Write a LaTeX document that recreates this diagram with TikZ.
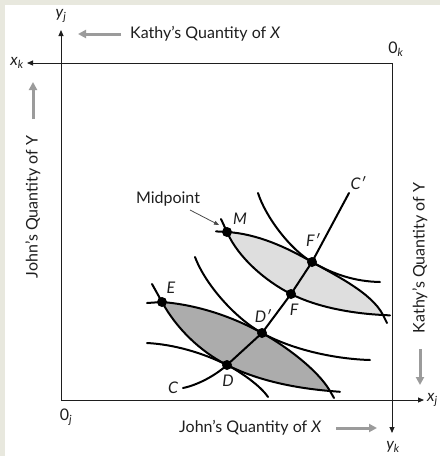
\documentclass[tikz,border=0pt]{standalone}
\usepackage{fontspec}
\setmainfont{Lato}
\usetikzlibrary{arrows.meta}
\definecolor{beige}{RGB}{232,232,222}
\definecolor{darklens}{RGB}{172,172,172}
\definecolor{lightlens}{RGB}{222,222,222}
\definecolor{arrowgray}{RGB}{155,155,155}
\definecolor{ink}{RGB}{30,30,30}
\begin{document}
\begin{tikzpicture}[x=1pt,y=-1pt,
  axisline/.style={line width=0.9pt,draw=ink},
  axisarrow/.style={line width=0.9pt,draw=ink,-{Triangle[length=6pt,width=5pt]}},
  curve/.style={line width=2pt,draw=black,line cap=round},
  grayarrow/.style={line width=3pt,draw=arrowgray,-{Triangle[length=8pt,width=8pt]}},
  dot/.style={circle,fill=black,inner sep=0pt,minimum size=10pt},
  txt/.style={font=\fontsize{16}{18}\selectfont,text=ink,inner sep=0pt},
  lbl/.style={font=\fontsize{16}{18}\selectfont\itshape,text=ink,inner sep=0pt}]
\useasboundingbox (0,0) rectangle (440,456);
\fill[white] (0,0) rectangle (440,456);
\fill[beige] (0,0) rectangle (440,5);
\fill[beige] (0,0) rectangle (5,456);
% corners of box
\coordinate (TL) at (61,63);
\coordinate (TR) at (392,63);
\coordinate (BL) at (61,400);
\coordinate (BR) at (392,400);
\coordinate (yjtip) at (61,30);
\coordinate (xktip) at (27,63);
\coordinate (xjtip) at (424,400);
\coordinate (yktip) at (392,433);
% key points
\coordinate (E) at (162,302);
\coordinate (D) at (227,365);
\coordinate (Dp) at (262,333);
\coordinate (F) at (291,294);
\coordinate (Fp) at (312,262);
\coordinate (M) at (227,232);
\coordinate (L1) at (330,391);
\coordinate (L2) at (383,315);
\coordinate (Cs) at (183,388);
\coordinate (Cp) at (349,193);
% lens fills
\fill[darklens] (E) .. controls (176.4,328.4) and (200.3,351.5) .. (D)
  .. controls (258,380.7) and (295,388) .. (L1)
  .. controls (317.5,369.3) and (283.9,345) .. (Dp)
  .. controls (231.4,316.2) and (197,304.8) .. (E) -- cycle;
\fill[lightlens] (M) .. controls (238.2,257.8) and (266,281.4) .. (F)
  .. controls (317.7,307.5) and (353,313.5) .. (L2)
  .. controls (371.75,292.5) and (333.75,274.5) .. (Fp)
  .. controls (285.9,247) and (257,233.8) .. (M) -- cycle;
% box and axes
\draw[axisline] (BL) -- (BR);
\draw[axisline] (TL) -- (TR);
\draw[axisline] (TL) -- (BL);
\draw[axisline] (TR) -- (BR);
\draw[axisarrow] (BL) -- (yjtip);
\draw[axisarrow] (TR) -- (xktip);
\draw[axisarrow] (BL) -- (xjtip);
\draw[axisarrow] (TR) -- (yktip);
% lower lens curves
\draw[curve] (152,284) -- (E) .. controls (176.4,328.4) and (200.3,351.5) .. (D)
  .. controls (258,380.7) and (295,388) .. (L1) -- (340,391.8);
\draw[curve] (147,303) -- (E) .. controls (197,304.8) and (231.4,316.2) .. (Dp)
  .. controls (283.9,345) and (317.5,369.3) .. (L1) -- (334,398);
\draw[curve] (195,257) .. controls (205.5,285) and (235.75,318.6) .. (Dp)
  .. controls (292.6,349.8) and (335,359) .. (370,360);
\draw[curve] (147,343) .. controls (174,344.4) and (203,352.9) .. (D)
  .. controls (239.5,371.3) and (260.3,385.4) .. (268,397);
% upper lens curves
\draw[curve] (221,219) -- (M) .. controls (238.2,257.8) and (266,281.4) .. (F)
  .. controls (317.7,307.5) and (353,313.5) .. (L2) -- (390,315.4);
\draw[curve] (216,231.4) -- (M) .. controls (257,233.8) and (285.9,247) .. (Fp)
  .. controls (333.75,274.5) and (371.75,292.5) .. (L2) -- (387,323);
\draw[curve] (258,193) .. controls (265.5,216.75) and (290.25,249.5) .. (Fp)
  .. controls (333.75,274.5) and (355,281.5) .. (380,282);
% contract curve
\draw[curve] (Cs) .. controls (198,385) and (216,375) .. (D) -- (Dp) -- (F) -- (Fp) -- (Cp);
% dots
\node[dot] (nE) at (E) {};
\node[dot] (nD) at (D) {};
\node[dot] (nDp) at (Dp) {};
\node[dot] (nF) at (F) {};
\node[dot] (nFp) at (Fp) {};
\node[dot] (nM) at (M) {};
% point labels
\node[lbl] (tE) at (171,288) {E};
\node[lbl] (tD) at (228,381) {D};
\node[lbl] (tDp) at (263,316) {D\/′};
\node[lbl] (tF) at (294,310) {F};
\node[lbl] (tFp) at (313,240) {F\/′};
\node[lbl] (tM) at (240,219) {M};
\node[lbl] (tC) at (173,388) {C};
\node[lbl] (tCp) at (358,183) {C\/′};
% midpoint
\node[txt] (mid) at (168,199) {Midpoint};
\coordinate (midstart) at (190,210);
\coordinate (midtip) at (219,225);
\draw[line width=0.8pt,draw=ink!80,-{Triangle[length=5pt,width=4pt]}] (midstart) -- (midtip);
% axis labels
\node[lbl] (yj) at (61,16) {y\textsubscript{j}};
\node[lbl] (xk) at (17,63) {x\textsubscript{k}};
\node[lbl,anchor=west] (xj) at (427,400) {x\textsubscript{j}};
\node[lbl] (yk) at (393,447) {y\textsubscript{k}};
\node[txt] (ok) at (396,49) {0\textsubscript{\itshape k}};
\node[txt] (oj) at (66,417) {0\textsubscript{\itshape j}};
% quantity labels
\node[txt,anchor=west] (kx) at (130,34) {Kathy's Quantity of \textit{X}};
\node[txt,anchor=west] (jx) at (179,428) {John's Quantity of \textit{X}};
\node[txt,rotate=90] (jy) at (33,207) {John's Quantity of Y};
\node[txt,rotate=90] (ky) at (420,258) {Kathy's Quantity of Y};
\coordinate (kxa) at (121,34);
\coordinate (kxb) at (78,34);
\draw[grayarrow] (kxa) -- (kxb);
\coordinate (jxa) at (336,428);
\coordinate (jxb) at (377,428);
\draw[grayarrow] (jxa) -- (jxb);
\coordinate (jya) at (33,119);
\coordinate (jyb) at (33,82);
\draw[grayarrow] (jya) -- (jyb);
\coordinate (kya) at (420,349);
\coordinate (kyb) at (420,385);
\draw[grayarrow] (kya) -- (kyb);
\end{tikzpicture}
\end{document}
